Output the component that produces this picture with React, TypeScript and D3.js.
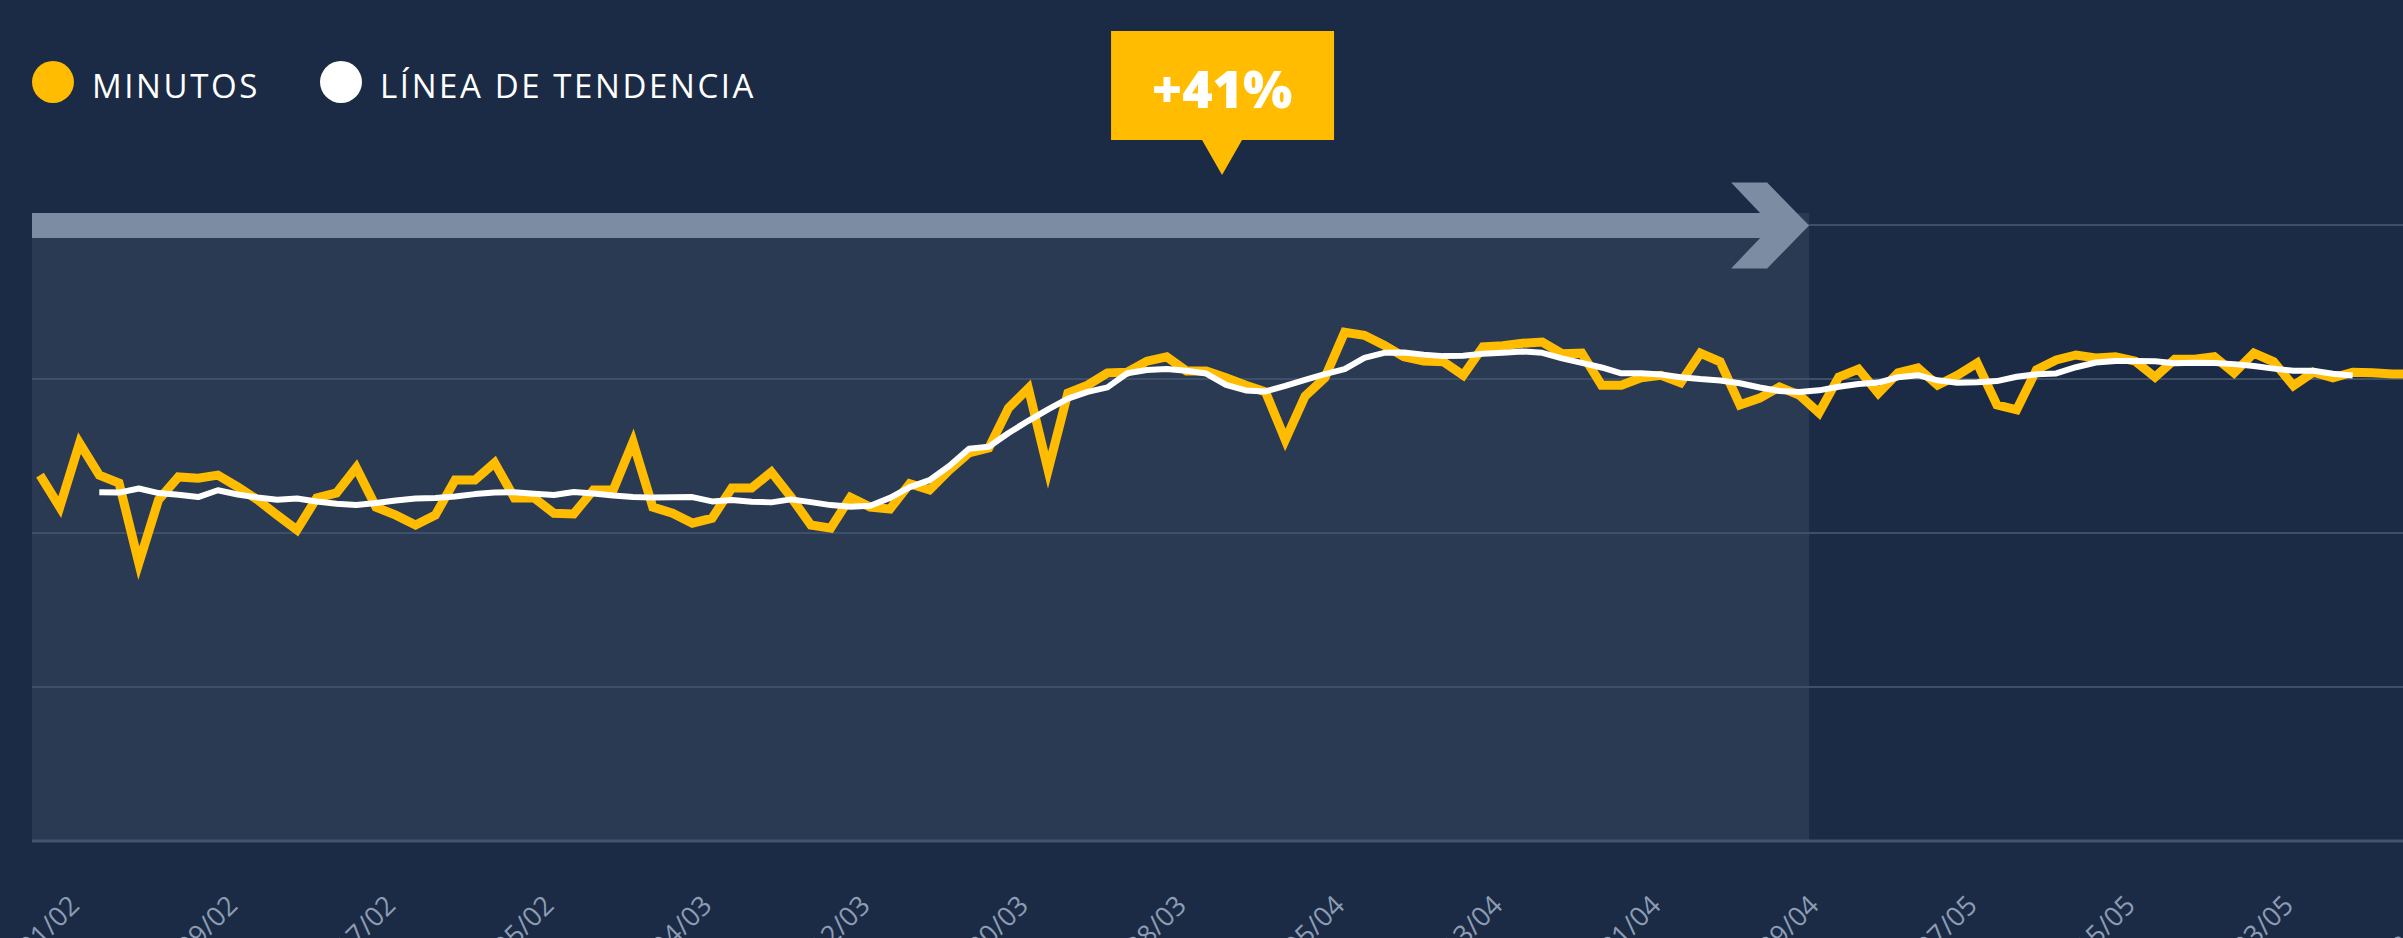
import * as d3 from 'd3';

// minutos diarios (índice, 0 = eje)
const minutosFeb = [
  59.4, 54.2, 64.6, 59.4, 58.1, 45.1, 55.4, 59.1, 58.9, 59.4, 57.5, 55.4, 52.9, 50.5, 55.7,
  56.5, 60.6, 54.2, 52.9, 51.3, 52.9, 58.6, 58.6, 61.4, 55.7, 55.7, 53.2, 53.1, 57.0,
];
const minutosMar = [
  57.0, 64.8, 54.2, 53.2, 51.6, 52.4, 57.3, 57.3, 59.9, 55.8, 51.3, 50.8, 55.8, 54.2, 53.9,
  58.0, 57.0, 60.2, 63.0, 63.8, 70.3, 73.5, 60.2, 72.7, 74.0, 76.0, 76.1, 77.9, 78.6, 76.3, 76.3,
];
const minutosAbr = [
  75.2, 74.0, 72.9, 65.1, 72.2, 75.2, 82.6, 82.1, 80.5, 78.6, 77.9, 77.8, 75.6, 80.2, 80.4,
  80.8, 81.0, 79.1, 79.2, 74.0, 74.0, 75.2, 75.6, 74.4, 79.2, 77.8, 70.8, 71.9, 73.7, 72.4,
];
const minutosMay = [
  69.5, 75.3, 76.6, 72.7, 76.0, 76.8, 74.0, 75.6, 77.6, 70.8, 70.0, 76.5, 78.1, 78.9, 78.4,
  78.6, 77.9, 75.3, 78.2, 78.2, 78.6, 76.0, 79.2, 77.8, 73.9, 76.1, 75.2, 76.1, 76.0, 75.8, 75.8,
];

const etiquetasX = [
  '01/02', '09/02', '17/02', '25/02', '04/03', '12/03', '20/03', '28/03',
  '05/04', '13/04', '21/04', '29/04', '07/05', '15/05', '23/05', '31/05',
];
const pasoEtiquetas = 8; // días entre etiquetas
const yTicks = [0, 25, 50, 75, 100];
const variacion = '+41%';
const leyenda = [
  { label: 'MINUTOS', color: '#FFBC00' },
  { label: 'LÍNEA DE TENDENCIA', color: '#FFFFFF' },
];

const minutos = [...minutosFeb, ...minutosMar, ...minutosAbr, ...minutosMay];

// media móvil centrada de 7 días
const tendencia: (number | null)[] = minutos.map((_, i) =>
  i < 3 || i > minutos.length - 4 ? null : (d3.mean(minutos.slice(i - 3, i + 4)) as number)
);

const W = 2403;
const H = 938;
const plotLeft = 32;
const plotBottom = 841;
const plotTop = 225;
const resaltadoHasta = 89.5; // índice donde termina la zona resaltada

export default function App() {
  const x = d3.scaleLinear().domain([0, minutos.length - 1]).range([40, 2412]);
  const y = d3.scaleLinear().domain([0, 100]).range([plotBottom, plotTop]);

  const linea = d3
    .line<number>()
    .x((_, i) => x(i))
    .y((d) => y(d));

  const lineaTend = d3
    .line<number | null>()
    .defined((d) => d != null)
    .x((_, i) => x(i))
    .y((d) => y(d as number));

  const xFin = x(resaltadoHasta);
  const bandTop = 213;
  const bandBot = 238;
  const bandMid = (bandTop + bandBot) / 2;
  const flecha = [
    [plotLeft, bandTop],
    [xFin - 49, bandTop],
    [xFin - 78, bandMid - 43],
    [xFin - 42, bandMid - 43],
    [xFin, bandMid],
    [xFin - 42, bandMid + 43],
    [xFin - 78, bandMid + 43],
    [xFin - 49, bandBot],
    [plotLeft, bandBot],
  ]
    .map((p) => p.join(','))
    .join(' ');

  const cx = x(59.8);
  const callout = `M${cx - 111},31 H${cx + 112} V140 H${cx + 20} L${cx},175 L${cx - 20},140 H${cx - 111} Z`;

  return (
    <svg
      width={W}
      height={H}
      style={{ position: 'absolute', left: 0, top: 0, display: 'block' }}
      fontFamily="'Open Sans', sans-serif"
    >
      <rect width={W} height={H} fill="#1B2B45" />
      <rect x={plotLeft} y={bandTop} width={xFin - plotLeft} height={plotBottom - bandTop} fill="#293A52" />

      {yTicks.slice(1).map((t) => (
        <line key={t} x1={plotLeft} x2={W} y1={y(t)} y2={y(t)} stroke="#3E5069" strokeWidth={2} />
      ))}
      <line x1={plotLeft} x2={W} y1={y(0)} y2={y(0)} stroke="#42556F" strokeWidth={3} />

      <polygon points={flecha} fill="#7B8CA3" />

      <path d={linea(minutos) ?? ''} fill="none" stroke="#FFBC00" strokeWidth={9} strokeLinejoin="miter" strokeMiterlimit={10} />
      <path d={lineaTend(tendencia) ?? ''} fill="none" stroke="#FFFFFF" strokeWidth={6} strokeLinejoin="round" />

      <path d={callout} fill="#FFBC00" />
      <text x={cx} y={108} textAnchor="middle" fill="#FFFFFF" fontSize={52} fontWeight={800}>
        {variacion}
      </text>

      {leyenda.map((l, i) => {
        const lx = i === 0 ? 53 : 341;
        return (
          <g key={l.label}>
            <circle cx={lx} cy={82} r={21} fill={l.color} />
            <text x={lx + 39} y={98} fill="#FFFFFF" fontSize={33} letterSpacing={2.6}>
              {l.label}
            </text>
          </g>
        );
      })}

      {etiquetasX.map((e, i) => (
        <text
          key={e}
          transform={`translate(${x(i * pasoEtiquetas) + 41},907) rotate(-45)`}
          textAnchor="end"
          fill="#8C9CB3"
          fontSize={27}
        >
          {e}
        </text>
      ))}
    </svg>
  );
}
